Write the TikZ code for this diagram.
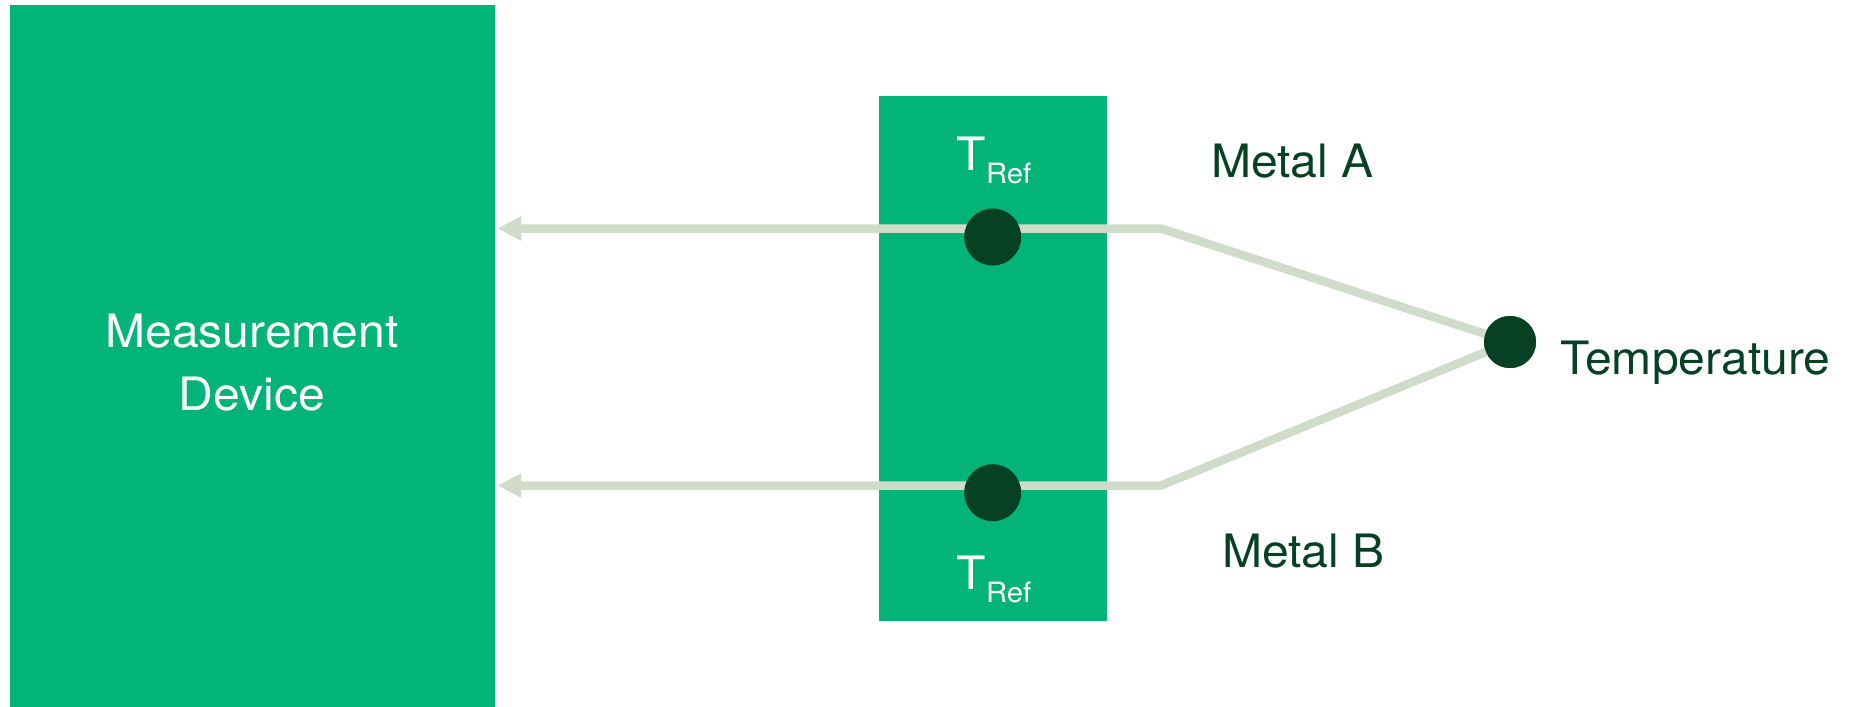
\documentclass[tikz,border=0pt]{standalone}
\usepackage{fontspec}
\setmainfont[FakeStretch=1.045]{TeX Gyre Heros}
\usetikzlibrary{arrows.meta}

\definecolor{brandgreen}{HTML}{02B478}
\definecolor{darkgreen}{HTML}{064124}
\definecolor{wire}{HTML}{CFDCCA}

\tikzset{
  block/.style={fill=brandgreen, draw=none, inner sep=0pt, anchor=north west},
  junction/.style={circle, fill=darkgreen, draw=none, inner sep=0pt, minimum size=57pt},
  hotjunction/.style={circle, fill=darkgreen, draw=none, inner sep=0pt, minimum size=52pt},
  lead/.style={draw=wire, line width=8.5pt, line join=bevel},
  leadarrow/.style={-{Triangle[length=24pt,width=23pt]}, shorten >=2pt},
  bigtext/.style={inner sep=0pt, font=\fontsize{46}{63}\selectfont},
  label/.style={bigtext, text=darkgreen, anchor=base west},
  reftext/.style={bigtext, text=white, anchor=base},
}
\newcommand{\tref}{T\raisebox{-13pt}{\fontsize{28}{30}\selectfont Ref}}

\begin{document}
\begin{tikzpicture}[x=1pt, y=-1pt]
  \useasboundingbox (0,0) rectangle (1856,707);

  % measurement device and reference block
  \node[block, minimum width=485pt, minimum height=702pt] (dev) at (10,5) {};
  \node[bigtext, text=white, align=center] at (252,363) {Measurement\\Device};
  \node[block, minimum width=228pt, minimum height=525pt] (refblk) at (879,96) {};

  % wire bends and the measuring junction
  \coordinate (bendA) at (1161,228.5);
  \coordinate (bendB) at (1161,485.5);
  \node[hotjunction] (hot) at (1510,342) {};

  % metal leads back to the device
  \draw[lead, leadarrow] (hot.center) -- (bendA) -- (bendA -| dev.east);
  \draw[lead, leadarrow] (hot.center) -- (bendB) -- (bendB -| dev.east);
  \node[hotjunction] at (hot) {};

  % reference junctions
  \node[junction] (refA) at (992.7,237) {};
  \node[junction] (refB) at (992.7,492.7) {};

  % labels
  \node[reftext] at (994,170) {\tref};
  \node[reftext] at (994,589) {\tref};
  \node[label] at (1211,177) {Metal A};
  \node[label] at (1222,567) {Metal B};
  \node[label] at (1560,374) {Temperature};
\end{tikzpicture}
\end{document}
